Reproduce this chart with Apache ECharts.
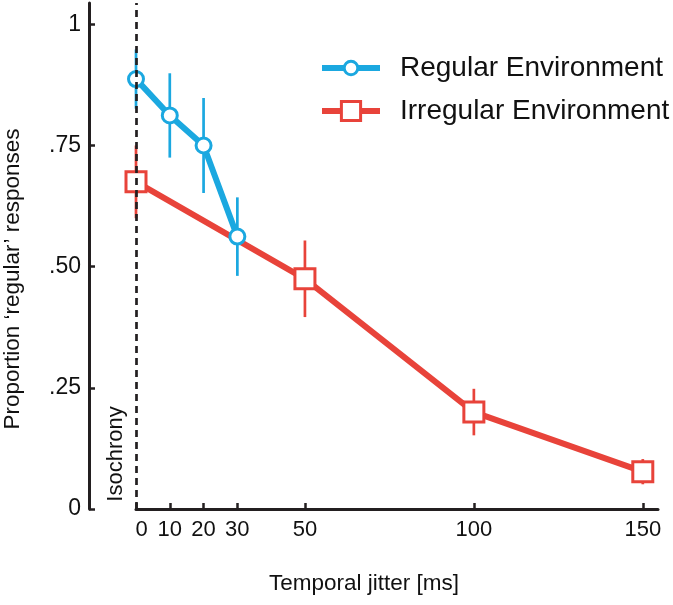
<!DOCTYPE html>
<html>
<head>
<meta charset="utf-8">
<script src="https://cdn.jsdelivr.net/npm/echarts@6/dist/echarts.min.js"></script>
<style>
html,body{margin:0;padding:0;background:#fff;}
#chart{width:673px;height:605px;}
</style>
</head>
<body>
<div id="chart"></div>
<script>
// ---- data ----
const regularX = [0, 10, 20, 30];
const regularY = [0.887, 0.812, 0.750, 0.562];
const regularErr = [0.061, 0.087, 0.098, 0.081];

const irregularX = [0, 50, 100, 150];
const irregularY = [0.675, 0.475, 0.200, 0.077];
const irregularErr = [0.075, 0.079, 0.048, 0.026];

const xTicks = [0, 10, 20, 30, 50, 100, 150];
const yTicks = [0, 0.25, 0.5, 0.75, 1];
const yTickLabels = ['0', '.25', '.50', '.75', '1'];

const seriesNames = ['Regular Environment', 'Irregular Environment'];
const xTitle = 'Temporal jitter [ms]';
const yTitle = 'Proportion \u2018regular\u2019 responses';
const refLabel = 'Isochrony';
const refX = 0;

// ---- styles ----
const BLUE = '#1BA8E0';
const RED = '#E8433A';
const AXIS = '#231F20';
const FONT = 'Liberation Sans, Arial, sans-serif';

function pairs(xs, ys) { return xs.map((x, i) => [x, ys[i]]); }
function errRows(xs, ys, es) { return xs.map((x, i) => [x, ys[i], es[i]]); }

function errorBarSeries(rows, color) {
  return {
    type: 'custom',
    z: 1,
    silent: true,
    clip: false,
    data: rows,
    encode: { x: 0, y: 1 },
    renderItem: function (params, api) {
      const x = api.value(0), m = api.value(1), e = api.value(2);
      const p1 = api.coord([x, m + e]);
      const p2 = api.coord([x, m - e]);
      return {
        type: 'line',
        shape: { x1: p1[0], y1: p1[1], x2: p2[0], y2: p2[1] },
        style: { stroke: color, lineWidth: 2.7 }
      };
    }
  };
}

const chart = echarts.init(document.getElementById('chart'), null, { renderer: 'canvas' });

const legendCommon = {
  orient: 'vertical',
  left: 319,
  padding: 0,
  itemWidth: 58,
  selectedMode: false,
  textStyle: { fontFamily: FONT, fontSize: 28, color: '#111', padding: [0, 0, 0, 15] }
};

chart.setOption({
  animation: false,
  backgroundColor: '#fff',
  grid: { left: 136, right: 15, top: 3, bottom: 96, containLabel: false },
  legend: [
    Object.assign({}, legendCommon, {
      data: [seriesNames[0]], top: 54, itemHeight: 17,
      lineStyle: { width: 6 }, itemStyle: { borderWidth: 3 }
    }),
    Object.assign({}, legendCommon, {
      data: [seriesNames[1]], top: 97, itemHeight: 24,
      lineStyle: { width: 6 }, itemStyle: { borderWidth: 3 }
    })
  ],
  xAxis: {
    type: 'value',
    min: 0,
    max: 154.5,
    axisLine: { show: true, onZero: false, lineStyle: { color: AXIS, width: 3 } },
    axisTick: { show: true, inside: true, length: 6, customValues: xTicks, lineStyle: { color: AXIS, width: 2.5 } },
    axisLabel: {
      customValues: xTicks, margin: 10, fontFamily: FONT, fontSize: 22, color: '#111',
      formatter: v => (v === 0 ? '{z|0}' : String(v)),
      rich: { z: { fontFamily: FONT, fontSize: 22, color: '#111', padding: [0, 0, 0, 11] } }
    },
    splitLine: { show: false }
  },
  yAxis: {
    type: 'value',
    min: 0,
    max: 1.044,
    offset: 47,
    axisLine: { show: true, onZero: false, lineStyle: { color: AXIS, width: 3 } },
    axisTick: { show: true, inside: true, length: 6, customValues: yTicks, lineStyle: { color: AXIS, width: 2.5 } },
    axisLabel: {
      customValues: yTicks, margin: 8, fontFamily: FONT, fontSize: 23, color: '#111',
      formatter: v => { const i = yTicks.indexOf(v); return i >= 0 ? yTickLabels[i] : ''; }
    },
    splitLine: { show: false }
  },
  graphic: [
    {
      type: 'text', x: 13, y: 279, rotation: Math.PI / 2,
      style: { text: yTitle, fontFamily: FONT, fontSize: 22.5, fill: '#111', align: 'center', verticalAlign: 'middle' }
    },
    {
      type: 'text', x: 364, y: 584,
      style: { text: xTitle, fontFamily: FONT, fontSize: 22.5, fill: '#111', align: 'center', verticalAlign: 'middle' }
    },
    {
      type: 'text', x: 116, y: 454, rotation: Math.PI / 2,
      style: { text: refLabel, fontFamily: FONT, fontSize: 22, fill: '#111', align: 'center', verticalAlign: 'middle' }
    }
  ],
  series: [
    {
      type: 'line',
      data: [],
      z: 0,
      silent: true,
      markLine: {
        silent: true,
        symbol: ['none', 'none'],
        label: { show: false },
        lineStyle: { color: AXIS, width: 2.7, type: [7, 5] },
        data: [{ xAxis: refX }]
      }
    },
    errorBarSeries(errRows(irregularX, irregularY, irregularErr), RED),
    errorBarSeries(errRows(regularX, regularY, regularErr), BLUE),
    {
      name: seriesNames[1],
      type: 'line',
      z: 3,
      clip: false,
      data: pairs(irregularX, irregularY),
      symbol: 'rect',
      symbolSize: 20,
      showAllSymbol: true,
      lineStyle: { color: RED, width: 6 },
      itemStyle: { color: '#fff', borderColor: RED, borderWidth: 3 }
    },
    {
      name: seriesNames[0],
      type: 'line',
      z: 4,
      clip: false,
      data: pairs(regularX, regularY),
      symbol: 'circle',
      symbolSize: 15,
      showAllSymbol: true,
      lineStyle: { color: BLUE, width: 6 },
      itemStyle: { color: '#fff', borderColor: BLUE, borderWidth: 3 }
    }
  ]
});
</script>
</body>
</html>
